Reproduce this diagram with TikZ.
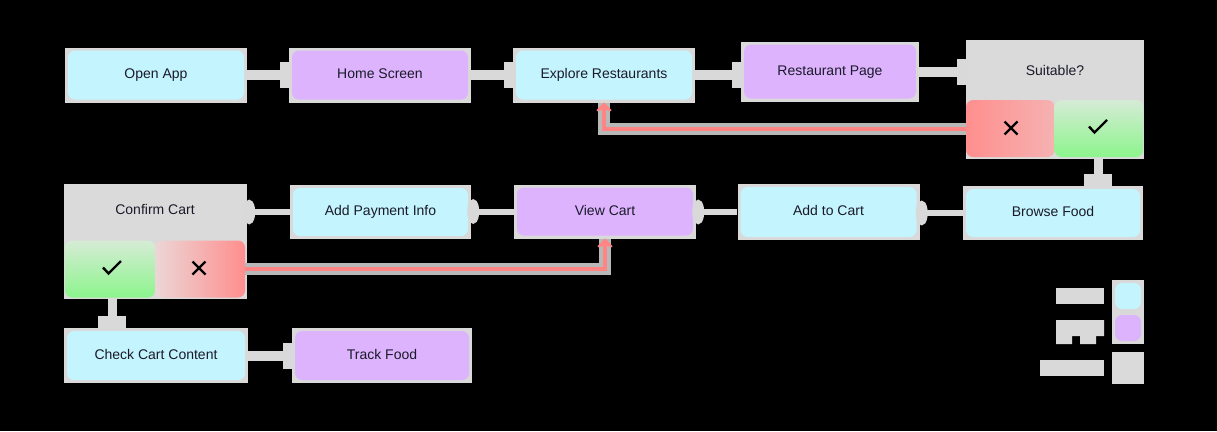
\documentclass[tikz,border=0pt]{standalone}
\usepackage{fontspec}
\setmainfont{Liberation Sans}
\usetikzlibrary{arrows.meta,calc}
\definecolor{cyanfill}{HTML}{C4F4FE}
\definecolor{purplefill}{HTML}{DDB3FD}
\definecolor{edgegray}{HTML}{D9D9D9}
\definecolor{decgray}{HTML}{DADADA}
\definecolor{txt}{HTML}{1A1A2A}
\definecolor{redline}{HTML}{FF8585}
\definecolor{redstrong}{HTML}{FF8E8E}
\definecolor{redpale}{HTML}{ECD6D6}
\definecolor{greenstrong}{HTML}{8CF58C}
\definecolor{greenpale}{HTML}{D6EBD6}
\definecolor{halo}{HTML}{B8B8B8}
\begin{document}
\begin{tikzpicture}[x=1pt,y=-1pt,
  base/.style={rectangle, fill=edgegray, inner sep=0pt, minimum height=55pt,
    minimum width=182pt, font=\fontsize{14}{16}\selectfont, text=txt,
    text height=10pt, text depth=3pt},
  cyanbox/.style={base, path picture={\fill[cyanfill, rounded corners=7pt]
    ([shift={(3pt,3pt)}]path picture bounding box.south west) rectangle
    ([shift={(-3pt,-3pt)}]path picture bounding box.north east);}},
  purplebox/.style={base, path picture={\fill[purplefill, rounded corners=7pt]
    ([shift={(3pt,3pt)}]path picture bounding box.south west) rectangle
    ([shift={(-3pt,-3pt)}]path picture bounding box.north east);}},
  decbox/.style={rectangle, fill=decgray, inner sep=0pt},
  dectitle/.style={inner sep=0pt, font=\fontsize{14}{16}\selectfont, text=txt,
    text height=10pt, text depth=3pt},
  optsRG/.style={rectangle, rounded corners=7pt, inner sep=0pt,
    minimum width=177pt, minimum height=57pt,
    path picture={
      \shade[left color=redstrong, right color=redpale]
        (path picture bounding box.north west) rectangle (path picture bounding box.south);
      \shade[top color=greenpale, bottom color=greenstrong]
        (path picture bounding box.north) rectangle (path picture bounding box.south east);}},
  optsGR/.style={rectangle, rounded corners=7pt, inner sep=0pt,
    minimum width=180pt, minimum height=57pt,
    path picture={
      \shade[top color=greenpale, bottom color=greenstrong]
        (path picture bounding box.north west) rectangle (path picture bounding box.south);
      \shade[left color=redpale, right color=redstrong]
        (path picture bounding box.north) rectangle (path picture bounding box.south east);}},
  spot/.style={inner sep=0pt, minimum size=1pt},
  iconline/.style={draw=black, line width=2.4pt},
  flowA/.style={draw=edgegray, line width=10pt, shorten >=-3pt,
    -{Rectangle[length=12pt,width=26pt]}},
  flowD/.style={draw=edgegray, line width=9pt, -{Rectangle[length=12pt,width=28pt]}},
  flowB/.style={draw=edgegray, line width=6pt, shorten >=-4pt,
    -{Ellipse[length=12pt,width=24pt]}},
  noflow/.style={draw=redline, line width=4pt, -{Stealth[length=10pt,width=19pt,round]},
    preaction={draw=halo, line width=12pt, -}},
  legbar/.style={fill=edgegray},
]
\fill[black] (0,0) rectangle (1217,431);
\useasboundingbox (0,0) rectangle (1217,431);

% row 1
\node[cyanbox] (open) at (156,75) {Open App};
\node[purplebox] (home) at (380,75) {Home Screen};
\node[cyanbox] (explore) at (604,75) {Explore Restaurants};
\node[purplebox, minimum width=178pt, minimum height=60pt] (rp) at (830,71.5) {Restaurant Page};
\node[decbox, minimum width=178pt, minimum height=119pt] (suit) at (1055,99.5) {};
\node[dectitle] (suitlbl) at (1055,72) {Suitable?};
\node[optsRG] (suitopts) at (1054.5,128.5) {};
\node[spot] (suitno) at (1011,128) {};
\node[spot] (suityes) at (1098,127) {};

% row 2
\node[decbox, minimum width=183pt, minimum height=115pt] (confirm) at (155.5,241.5) {};
\node[dectitle] (confirmlbl) at (155,211) {Confirm Cart};
\node[optsGR] (copts) at (155,269) {};
\node[spot] (cyes) at (112,268) {};
\node[spot] (cno) at (199,268) {};
\node[cyanbox, minimum width=181pt, minimum height=54pt] (payment) at (380.5,212) {Add Payment Info};
\node[purplebox, minimum width=182pt, minimum height=54pt] (viewcart) at (605,211.5) {View Cart};
\node[cyanbox, minimum width=182pt, minimum height=56pt] (addcart) at (828.5,212) {Add to Cart};
\node[cyanbox, minimum width=180pt, minimum height=54pt] (browse) at (1053,213) {Browse Food};

% row 3
\node[cyanbox, minimum width=184pt] (check) at (156,355.5) {Check Cart Content};
\node[purplebox, minimum width=180pt] (track) at (382,355.5) {Track Food};

% icons
\draw[iconline] ([shift={(-6.5pt,-6.5pt)}]suitno.center) -- ([shift={(6.5pt,6.5pt)}]suitno.center)
  ([shift={(-6.5pt,6.5pt)}]suitno.center) -- ([shift={(6.5pt,-6.5pt)}]suitno.center);
\draw[iconline] ([shift={(-6.5pt,-6.5pt)}]cno.center) -- ([shift={(6.5pt,6.5pt)}]cno.center)
  ([shift={(-6.5pt,6.5pt)}]cno.center) -- ([shift={(6.5pt,-6.5pt)}]cno.center);
\draw[iconline] ([shift={(-9pt,0.5pt)}]suityes.center) -- ([shift={(-3.5pt,-5.5pt)}]suityes.center)
  -- ([shift={(9pt,7pt)}]suityes.center);
\draw[iconline] ([shift={(-9pt,0.5pt)}]cyes.center) -- ([shift={(-3.5pt,-5.5pt)}]cyes.center)
  -- ([shift={(9pt,7pt)}]cyes.center);

% connectors row 1
\draw[flowA] (open.east) -- (home.west);
\draw[flowA] (home.east) -- (explore.west);
\draw[flowA] (explore.east) -- (explore.east -| rp.west);
\draw[flowA] (rp.east) -- (rp.east -| suit.west);
\draw[flowD] (suityes |- suit.south) -- (suityes |- browse.north);

% connectors row 2
\draw[flowB] (browse.west) -- (browse.west -| addcart.east);
\draw[flowB] (addcart.west) -- (addcart.west -| viewcart.east);
\draw[flowB] (viewcart.west) -- (viewcart.west -| payment.east);
\draw[flowB] (payment.west) -- (payment.west -| confirm.east);
\draw[flowD] (cyes |- confirm.south) -- (cyes |- check.north);

% row 3
\draw[flowA] (check.east) -- (check.east -| track.west);

% red loops
\draw[noflow] (suitopts.west) -| (explore.south);
\draw[noflow] (copts.east) -| (viewcart.south);

% legend
\fill[legbar] (1056,288) rectangle (1104,304);
\fill[legbar] (1056,320) -- (1104,320) -- (1104,336) -- (1096,336) -- (1096,344)
  -- (1080,344) -- (1080,336) -- (1072,336) -- (1072,344) -- (1056,344) -- cycle;
\fill[legbar] (1040,360) rectangle (1104,376);
\node[cyanbox, minimum width=32pt, minimum height=32pt] (legc) at (1128,296) {};
\node[purplebox, minimum width=32pt, minimum height=32pt] (legp) at (1128,328) {};
\node[decbox, minimum width=32pt, minimum height=32pt] (legg) at (1128,368) {};
\end{tikzpicture}
\end{document}
